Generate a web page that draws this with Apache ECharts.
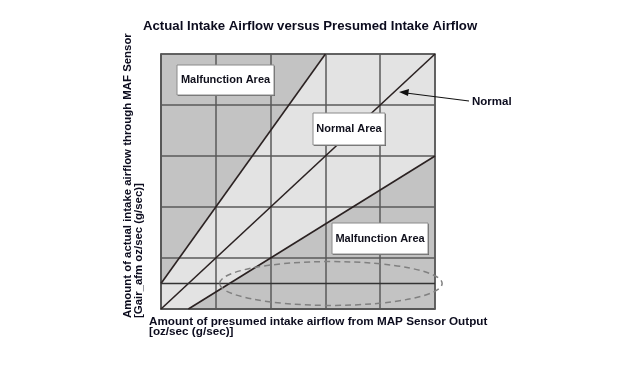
<!DOCTYPE html>
<html>
<head>
<meta charset="utf-8">
<script src="https://cdn.jsdelivr.net/npm/echarts@6/dist/echarts.min.js"></script>
<style>
html,body{margin:0;padding:0;background:#fff;}
#chart{width:644px;height:380px;}
</style>
</head>
<body>
<div id="chart"></div>
<script>
// ---- data ----
const titleText = 'Actual Intake Airflow versus Presumed Intake Airflow';
const xName = ['Amount of presumed intake airflow from MAP Sensor Output', '[oz/sec (g/sec)]'];
const yName = ['Amount of actual intake airflow through MAF Sensor', '[Gair_afm oz/sec (g/sec)]'];
const axisMin = 0, axisMax = 5, axisStep = 1;
const fullArea = [[0, 0], [5, 0], [5, 5], [0, 5]];
const normalArea = [[0, 0], [0, 0.5], [3, 5], [5, 5], [5, 3], [0.5, 0]];
const steepLine = [[0, 0.5], [3, 5]];
const normalLine = [[0, 0], [5, 5]];
const shallowLine = [[0.5, 0], [5, 3]];
const thresholdLine = [[0, 0.5], [5, 0.5]];
const ellipseCenter = [3.1, 0.5];
const ellipseRadii = [2.03, 0.43];
const areaLabels = ['Malfunction Area', 'Normal Area', 'Malfunction Area'];
const calloutText = 'Normal';

const FONT = '"Liberation Sans", Arial, Helvetica, sans-serif';
const chart = echarts.init(document.getElementById('chart'), null, {renderer: 'canvas'});

function polySeries(points, color, z) {
  return {
    type: 'custom', z: z, silent: true,
    data: [0],
    renderItem: function (params, api) {
      return {
        type: 'polygon',
        shape: {points: points.map(p => api.coord(p))},
        style: {fill: color, stroke: null}
      };
    }
  };
}
function lineSeries(points, color, width, z) {
  return {
    type: 'line', data: points, showSymbol: false, symbol: 'none', z: z, silent: true,
    lineStyle: {color: color, width: width}, animation: false
  };
}

const series = [
  polySeries(fullArea, '#c3c3c3', 1),
  polySeries(normalArea, '#e3e3e3', 2),
  lineSeries(steepLine, '#2b2222', 1.6, 5),
  lineSeries(normalLine, '#2b2222', 1.6, 5),
  lineSeries(shallowLine, '#2b2222', 1.6, 5),
  lineSeries(thresholdLine, '#333333', 1.7, 5),
  {
    type: 'custom', z: 6, silent: true, data: [0],
    renderItem: function (params, api) {
      const c = api.coord(ellipseCenter);
      const s = api.size(ellipseRadii);
      return {
        type: 'ellipse',
        shape: {cx: c[0], cy: c[1], rx: s[0], ry: s[1]},
        style: {fill: null, stroke: '#808080', lineWidth: 1.5, lineDash: [6, 4]}
      };
    }
  }
];

function labelBox(x, y, w, h, text) {
  return [
    {type: 'rect', z: 20, silent: true, shape: {x: x + 1, y: y + 1, width: w, height: h}, style: {fill: '#6a6a6a'}},
    {type: 'rect', z: 21, silent: true, shape: {x: x, y: y, width: w, height: h}, style: {fill: '#ffffff', stroke: '#8a8a8a', lineWidth: 1}},
    {type: 'text', z: 22, silent: true, x: x + w / 2, y: y + h / 2,
     style: {text: text, font: 'bold 11px ' + FONT, fill: '#10101c', align: 'center', verticalAlign: 'middle'}}
  ];
}

const axisCommon = {
  type: 'value', min: axisMin, max: axisMax, interval: axisStep, z: 4,
  axisLabel: {show: false}, axisTick: {show: false},
  axisLine: {show: true, lineStyle: {color: '#555', width: 1.5}},
  splitLine: {show: true, lineStyle: {color: '#5a5a5a', width: 1.5}}
};

chart.setOption({
  animation: false,
  backgroundColor: '#ffffff',
  grid: {left: 161, top: 54, width: 274, height: 255, show: false},
  xAxis: Object.assign({}, axisCommon),
  yAxis: Object.assign({}, axisCommon),
  series: series,
  graphic: [
    {type: 'rect', z: 4, silent: true, shape: {x: 161, y: 54, width: 274, height: 255},
     style: {fill: null, stroke: '#555', lineWidth: 1.5}},
    {type: 'text', x: 143, y: 26, z: 20, silent: true,
     style: {text: titleText, font: 'bold 13.2px ' + FONT, fill: '#0c0c1e', verticalAlign: 'middle'}},
    {type: 'text', x: 149, y: 321.5, z: 20, silent: true,
     style: {text: xName[0], font: 'bold 11.7px ' + FONT, fill: '#0c0c1e', verticalAlign: 'middle'}},
    {type: 'text', x: 149, y: 331.5, z: 20, silent: true,
     style: {text: xName[1], font: 'bold 11.7px ' + FONT, fill: '#0c0c1e', verticalAlign: 'middle'}},
    {type: 'text', x: 128, y: 318, rotation: Math.PI / 2, z: 20, silent: true,
     style: {text: yName[0], font: 'bold 11.4px ' + FONT, fill: '#0c0c1e', align: 'left', verticalAlign: 'middle'}},
    {type: 'text', x: 139, y: 318, rotation: Math.PI / 2, z: 20, silent: true,
     style: {text: yName[1], font: 'bold 11.4px ' + FONT, fill: '#0c0c1e', align: 'left', verticalAlign: 'middle'}}
  ].concat(
    labelBox(177, 65, 97, 30, areaLabels[0]),
    labelBox(313, 113, 72, 32, areaLabels[1]),
    labelBox(332, 223, 96, 31, areaLabels[2]),
    [
      {type: 'line', z: 20, silent: true, shape: {x1: 469, y1: 101, x2: 406, y2: 93}, style: {stroke: '#111', lineWidth: 1.2}},
      {type: 'polygon', z: 20, silent: true, shape: {points: [[399, 92], [409, 89], [408, 96]]}, style: {fill: '#111'}},
      {type: 'text', x: 472, y: 102, z: 20, silent: true,
       style: {text: calloutText, font: 'bold 11.5px ' + FONT, fill: '#0c0c1e', align: 'left', verticalAlign: 'middle'}}
    ]
  )
});
</script>
</body>
</html>
